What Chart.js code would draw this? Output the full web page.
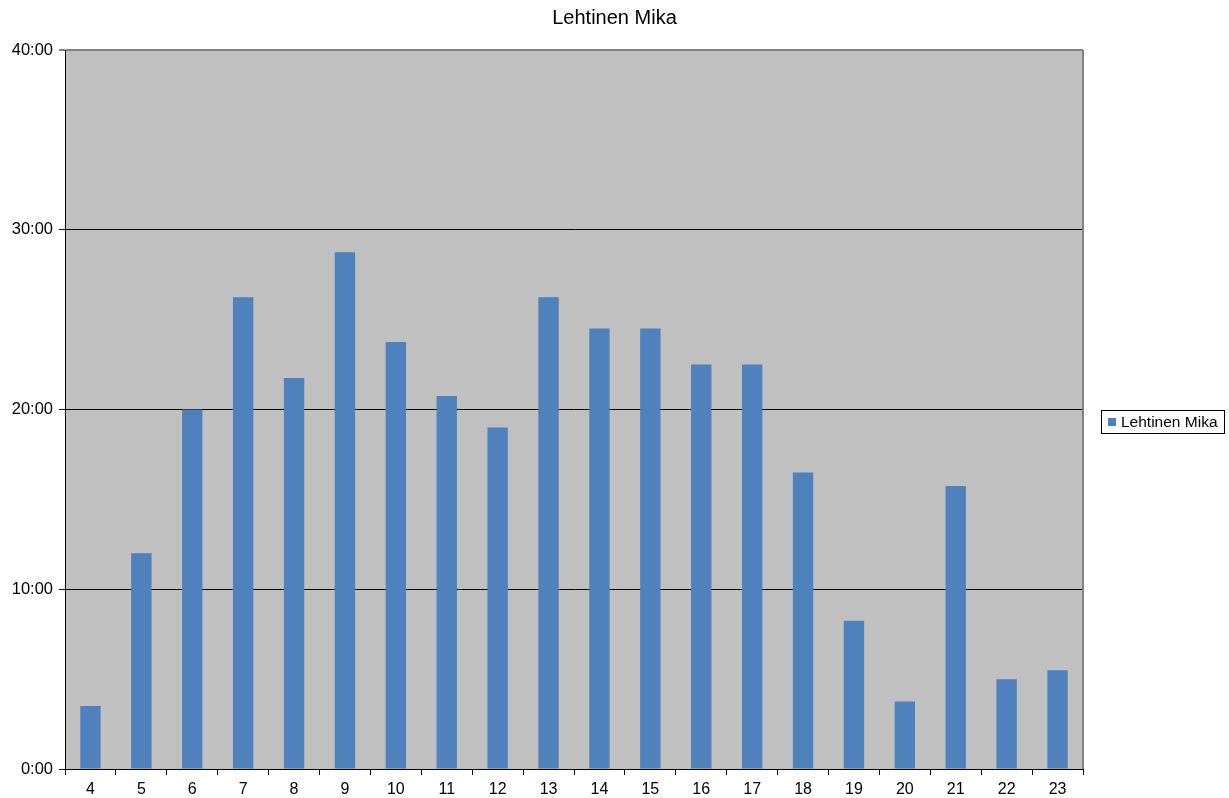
<!DOCTYPE html>
<html>
<head>
<meta charset="utf-8">
<script src="https://cdn.jsdelivr.net/npm/chart.js@4.4.0/dist/chart.umd.min.js"></script>
<style>
  html, body { margin: 0; padding: 0; background: #fff; }
  #wrap { width: 1229px; height: 798px; }
</style>
</head>
<body>
<div id="wrap"><canvas id="grafico"></canvas></div>
<script>
// Kierrokset (x) ja ajat minuutteina (y)
const kierrokset = ['4','5','6','7','8','9','10','11','12','13','14','15','16','17','18','19','20','21','22','23'];
const ajat = [3.5, 12.0, 20.0, 26.25, 21.75, 28.75, 23.75, 20.75, 19.0, 26.25, 24.5, 24.5, 22.5, 22.5, 16.5, 8.25, 3.75, 15.75, 5.0, 5.5];
const nimi = 'Lehtinen Mika';

const fontti = "'Liberation Sans', Arial, sans-serif";

// Harmaa tausta, reunat, otsikko ja selite
const tausta = {
  id: 'tausta',
  beforeDraw(chart) {
    const a = chart.chartArea, c = chart.ctx;
    c.save();
    c.fillStyle = '#C0C0C0';
    c.fillRect(a.left, a.top, a.right - a.left, a.bottom - a.top);
    c.restore();
  },
  afterDatasetsDraw(chart) {
    const a = chart.chartArea, c = chart.ctx;
    c.save();
    c.strokeStyle = '#808080';
    c.lineWidth = 2;
    c.beginPath();
    c.moveTo(a.right, a.top);
    c.lineTo(a.right, a.bottom);
    c.stroke();
    c.restore();
  },
  afterDraw(chart) {
    const c = chart.ctx;
    const ds = chart.data.datasets[0];
    // otsikko koko leveyden keskelle
    c.save();
    c.fillStyle = '#000';
    c.font = '20px ' + fontti;
    c.textAlign = 'center';
    c.textBaseline = 'middle';
    c.fillText(nimi, chart.width / 2, 18);
    c.restore();
    // selite
    const x = 1101, y = 410, w = 123, h = 23;
    c.save();
    c.strokeStyle = '#000';
    c.lineWidth = 1;
    c.strokeRect(x + 0.5, y + 0.5, w, h);
    c.fillStyle = ds.backgroundColor;
    c.fillRect(x + 7, y + 8, 8, 8);
    c.fillStyle = '#000';
    c.font = '15.5px ' + fontti;
    c.textBaseline = 'middle';
    c.fillText(ds.label, x + 20, y + 12.5);
    c.restore();
  }
};

new Chart(document.getElementById('grafico'), {
  type: 'bar',
  data: {
    labels: kierrokset,
    datasets: [{
      label: nimi,
      data: ajat,
      backgroundColor: '#4F81BD',
      borderWidth: 0,
      barPercentage: 0.4,
      categoryPercentage: 1.0
    }]
  },
  options: {
    responsive: true,
    maintainAspectRatio: false,
    animation: false,
    layout: { padding: { left: 0, right: 146, top: 50, bottom: 0 } },
    plugins: {
      title: { display: false },
      legend: { display: false },
      tooltip: { enabled: false }
    },
    scales: {
      x: {
        grid: {
          offset: true,
          drawOnChartArea: false,
          color: '#000',
          tickLength: 6
        },
        border: { color: '#000' },
        ticks: {
          color: '#000',
          font: { family: fontti, size: 16 },
          padding: 5,
          maxRotation: 0
        },
        afterFit(s) { s.height = 29; }
      },
      y: {
        min: 0,
        max: 40,
        grid: {
          color: ctx => ctx.tick && ctx.tick.value === 40 ? '#808080' : '#000',
          lineWidth: ctx => ctx.tick && ctx.tick.value === 40 ? 2 : 1,
          tickLength: 6
        },
        border: { color: '#000' },
        ticks: {
          stepSize: 10,
          color: '#000',
          font: { family: fontti, size: 16.5 },
          padding: 6,
          callback: v => v + ':00'
        },
        afterFit(s) { s.width = 65; }
      }
    }
  },
  plugins: [tausta]
});
</script>
</body>
</html>
